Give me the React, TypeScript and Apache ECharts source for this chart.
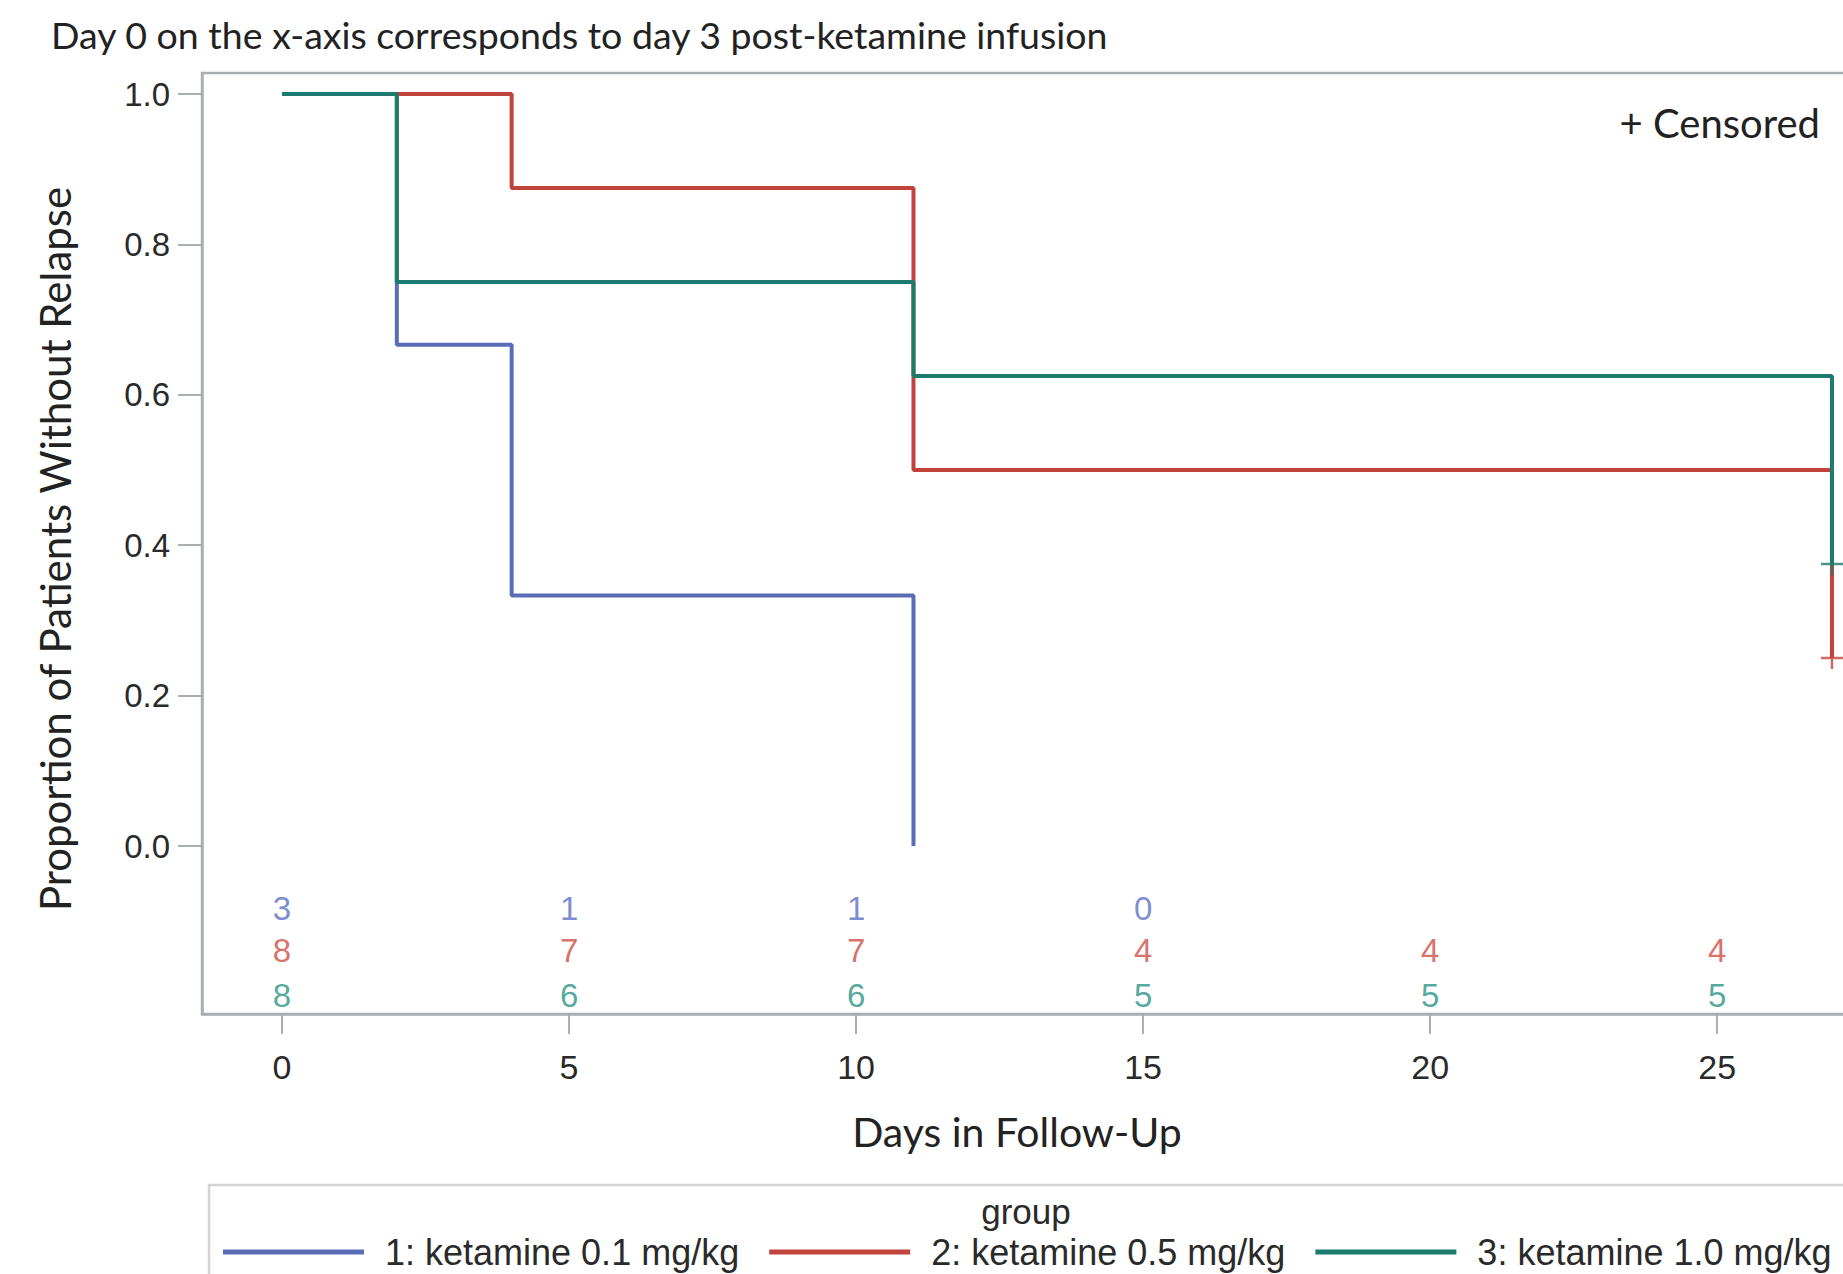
import React, { useEffect, useRef } from "react";
import * as echarts from "echarts";

const groupNames = ["1: ketamine 0.1 mg/kg", "2: ketamine 0.5 mg/kg", "3: ketamine 1.0 mg/kg"];
const lineColors = ["#5A6CB6", "#C0443C", "#1D7B6E"];
const riskColors = ["#5B6FC4", "#CC4C42", "#2A9284"];

// Kaplan-Meier step points [day, proportion]
const km1 = [[0, 1], [2, 0.6667], [4, 0.3333], [11, 0]];
const km2 = [[0, 1], [4, 0.875], [11, 0.5], [27, 0.25]];
const km3 = [[0, 1], [2, 0.75], [11, 0.625], [27, 0.375]];
const censored2 = [[27, 0.25]];
const censored3 = [[27, 0.375]];

// number at risk
const riskDays = [0, 5, 10, 15, 20, 25];
const atRisk1 = [3, 1, 1, 0];
const atRisk2 = [8, 7, 7, 4, 4, 4];
const atRisk3 = [8, 6, 6, 5, 5, 5];

const xTicks = [0, 5, 10, 15, 20, 25];
const yTicks = [0, 0.2, 0.4, 0.6, 0.8, 1.0];

const titleText = "Day 0 on the x-axis corresponds to day 3 post-ketamine infusion";
const xTitle = "Days in Follow-Up";
const yTitle = "Proportion of Patients Without Relapse";
const censorText = "+ Censored";
const legendTitle = "group";

export default function App() {
  const ref = useRef<HTMLDivElement>(null);
  useEffect(() => {
    if (!ref.current) return;
    const chart = echarts.init(ref.current, null, { renderer: "svg" });
    const riskLevels = [-0.083, -0.1395, -0.199];
    const riskSets = [atRisk1, atRisk2, atRisk3];
    const kms = [km1, km2, km3];
    const series: any[] = [];
    kms.forEach((d, i) => {
      series.push({
        name: groupNames[i],
        type: "line",
        step: "end",
        data: d,
        symbol: "none",
        color: lineColors[i],
        lineStyle: { width: 4, color: lineColors[i] },
        z: 3 + i,
      });
    });
    [[censored2, 1], [censored3, 2]].forEach(([d, i]: any) => {
      series.push({
        name: "censor" + i,
        type: "scatter",
        data: d,
        symbol: "path://M0,10L20,10M10,0L10,20",
        symbolSize: 22,
        itemStyle: { color: "transparent", borderColor: lineColors[i], borderWidth: 2.5 },
        z: 10,
      });
    });
    riskSets.forEach((vals, i) => {
      series.push({
        name: "risk" + i,
        type: "scatter",
        data: vals.map((v, k) => [riskDays[k], riskLevels[i], v]),
        symbol: "circle",
        symbolSize: 1,
        itemStyle: { color: "transparent" },
        label: {
          show: true,
          position: "inside",
          formatter: (p: any) => String(p.value[2]),
          color: riskColors[i],
          fontSize: 33,
          fontFamily: "Liberation Sans",
        },
        z: 5,
      });
    });

    chart.setOption({
      animation: false,
      backgroundColor: "#ffffff",
      title: {
        text: titleText,
        left: 46,
        top: 10,
        textStyle: { fontFamily: "Lato", fontSize: 37.5, fontWeight: "normal", color: "#222" },
      },
      grid: {
        left: 202,
        top: 73,
        width: 1700,
        height: 941,
        show: true,
        borderColor: "#A9AEB2",
        borderWidth: 2.5,
        containLabel: false,
        outerBoundsMode: "none",
      },
      xAxis: {
        type: "value",
        min: -1.394,
        max: 28.22,
        axisLine: { show: true, onZero: false, lineStyle: { color: "#A9AEB2", width: 2.5 } },
        axisTick: { show: true, length: 20, customValues: xTicks, lineStyle: { color: "#A9AEB2", width: 2 } },
        axisLabel: {
          customValues: xTicks,
          margin: 36,
          fontSize: 34,
          fontFamily: "Liberation Sans",
          color: "#2a2a2a",
        },
        splitLine: { show: false },
      },
      yAxis: {
        type: "value",
        min: -0.2234,
        max: 1.028,
        axisLine: { show: true, onZero: false, lineStyle: { color: "#A9AEB2", width: 2.5 } },
        axisTick: { show: true, length: 24, customValues: yTicks, lineStyle: { color: "#A9AEB2", width: 2 } },
        axisLabel: {
          customValues: yTicks,
          margin: 32,
          fontSize: 33,
          fontFamily: "Liberation Sans",
          color: "#2a2a2a",
          formatter: (v: number) => v.toFixed(1),
        },
        splitLine: { show: false },
      },
      legend: {
        data: groupNames.map((n) => ({ name: n, icon: "rect" })),
        left: 223,
        top: 1234,
        itemWidth: 141,
        itemHeight: 5,
        itemGap: 30,
        padding: 0,
        textStyle: { fontSize: 36, fontFamily: "Liberation Sans", color: "#2a2a2a", padding: [0, 0, 0, 16] },
        selectedMode: false,
      },
      graphic: [
        {
          type: "text",
          x: 55,
          y: 549,
          rotation: Math.PI / 2,
          style: {
            text: yTitle,
            fontFamily: "Lato",
            fontSize: 42,
            fill: "#222",
            textAlign: "center",
            textVerticalAlign: "middle",
          },
        },
        {
          type: "text",
          x: 1017,
          y: 1131,
          style: {
            text: xTitle,
            fontFamily: "Lato",
            fontSize: 41,
            fill: "#222",
            textAlign: "center",
            textVerticalAlign: "middle",
          },
        },
        {
          type: "text",
          x: 1820,
          y: 123,
          style: {
            text: censorText,
            fontFamily: "Lato",
            fontSize: 40,
            fill: "#222",
            textAlign: "right",
            textVerticalAlign: "middle",
          },
        },
        {
          type: "rect",
          shape: { x: 209, y: 1185, width: 1700, height: 200 },
          style: { fill: "none", stroke: "#D2D4D6", lineWidth: 2.5 },
          z: -1,
        },
        {
          type: "text",
          x: 1026,
          y: 1211,
          style: {
            text: legendTitle,
            fontFamily: "Liberation Sans",
            fontSize: 35,
            fill: "#2a2a2a",
            textAlign: "center",
            textVerticalAlign: "middle",
          },
        },
      ],
      series,
    });
    return () => chart.dispose();
  }, []);
  return (
    <div
      ref={ref}
      style={{ position: "absolute", left: 0, top: 0, width: 1843, height: 1274 }}
    />
  );
}
